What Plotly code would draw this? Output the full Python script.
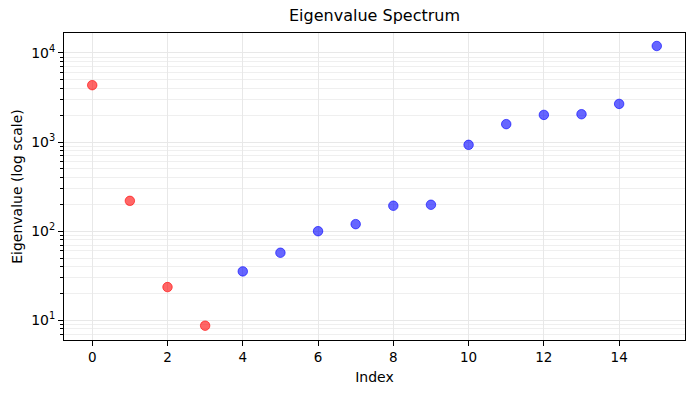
import plotly.graph_objects as go

index = list(range(16))
eigenvalues = [4350, 219, 23.6, 8.7, 35.4, 57.3, 100, 120, 193, 198,
               931, 1590, 2018, 2054, 2680, 11970]
n_red = 4
red_x = index[:n_red]
red_y = eigenvalues[:n_red]
blue_x = index[n_red:]
blue_y = eigenvalues[n_red:]

x_ticks = [0, 2, 4, 6, 8, 10, 12, 14]
y_ticks = [10, 100, 1000, 10000]
y_ticktext = ["10<sup>1</sup>", "10<sup>2</sup>", "10<sup>3</sup>", "10<sup>4</sup>"]

font = "DejaVu Sans"
grid = "#e8e8e8"

fig = go.Figure()
fig.add_trace(go.Scatter(x=red_x, y=red_y, mode="markers",
                         marker=dict(size=9.5, color="rgba(255,0,0,0.6)",
                                     line=dict(width=1, color="rgba(255,0,0,0.6)")),
                         showlegend=False))
fig.add_trace(go.Scatter(x=blue_x, y=blue_y, mode="markers",
                         marker=dict(size=9.5, color="rgba(0,0,255,0.6)",
                                     line=dict(width=1, color="rgba(0,0,255,0.6)")),
                         showlegend=False))

fig.update_layout(
    width=694, height=393,
    margin=dict(l=64, r=9, t=33, b=53),
    paper_bgcolor="white", plot_bgcolor="white",
    font=dict(family=font, size=14, color="black"),
    title=dict(text="Eigenvalue Spectrum", x=0.5, xanchor="center",
               xref="paper", y=1, yref="container", yanchor="top",
               pad=dict(t=10), font=dict(size=16, family=font, color="black")),
    xaxis=dict(range=[-0.75, 15.75], tickvals=x_ticks, ticktext=[str(v) for v in x_ticks],
               automargin=False,
               showline=True, linecolor="black", linewidth=1, mirror=True,
               ticks="outside", ticklen=5, tickcolor="black",
               showgrid=True, gridcolor=grid, gridwidth=1, zeroline=False,
               tickfont=dict(size=13.5),
               title=dict(text="Index", font=dict(size=14), standoff=7)),
    yaxis=dict(type="log", range=[0.779, 4.224], tickvals=y_ticks, ticktext=y_ticktext,
               automargin=False,
               showline=True, linecolor="black", linewidth=1, mirror=True,
               ticks="outside", ticklen=5, tickcolor="black",
               showgrid=True, gridcolor=grid, gridwidth=1, zeroline=False,
               tickfont=dict(size=14),
               minor=dict(dtick="D1", ticks="outside", ticklen=3, tickcolor="black",
                          showgrid=True, gridcolor="#efefef", gridwidth=1),
               title=dict(text="Eigenvalue (log scale)", font=dict(size=14), standoff=5)),
)

fig.write_html("out.html", config={"displayModeBar": False},
               post_script="document.body.style.margin='0';")
